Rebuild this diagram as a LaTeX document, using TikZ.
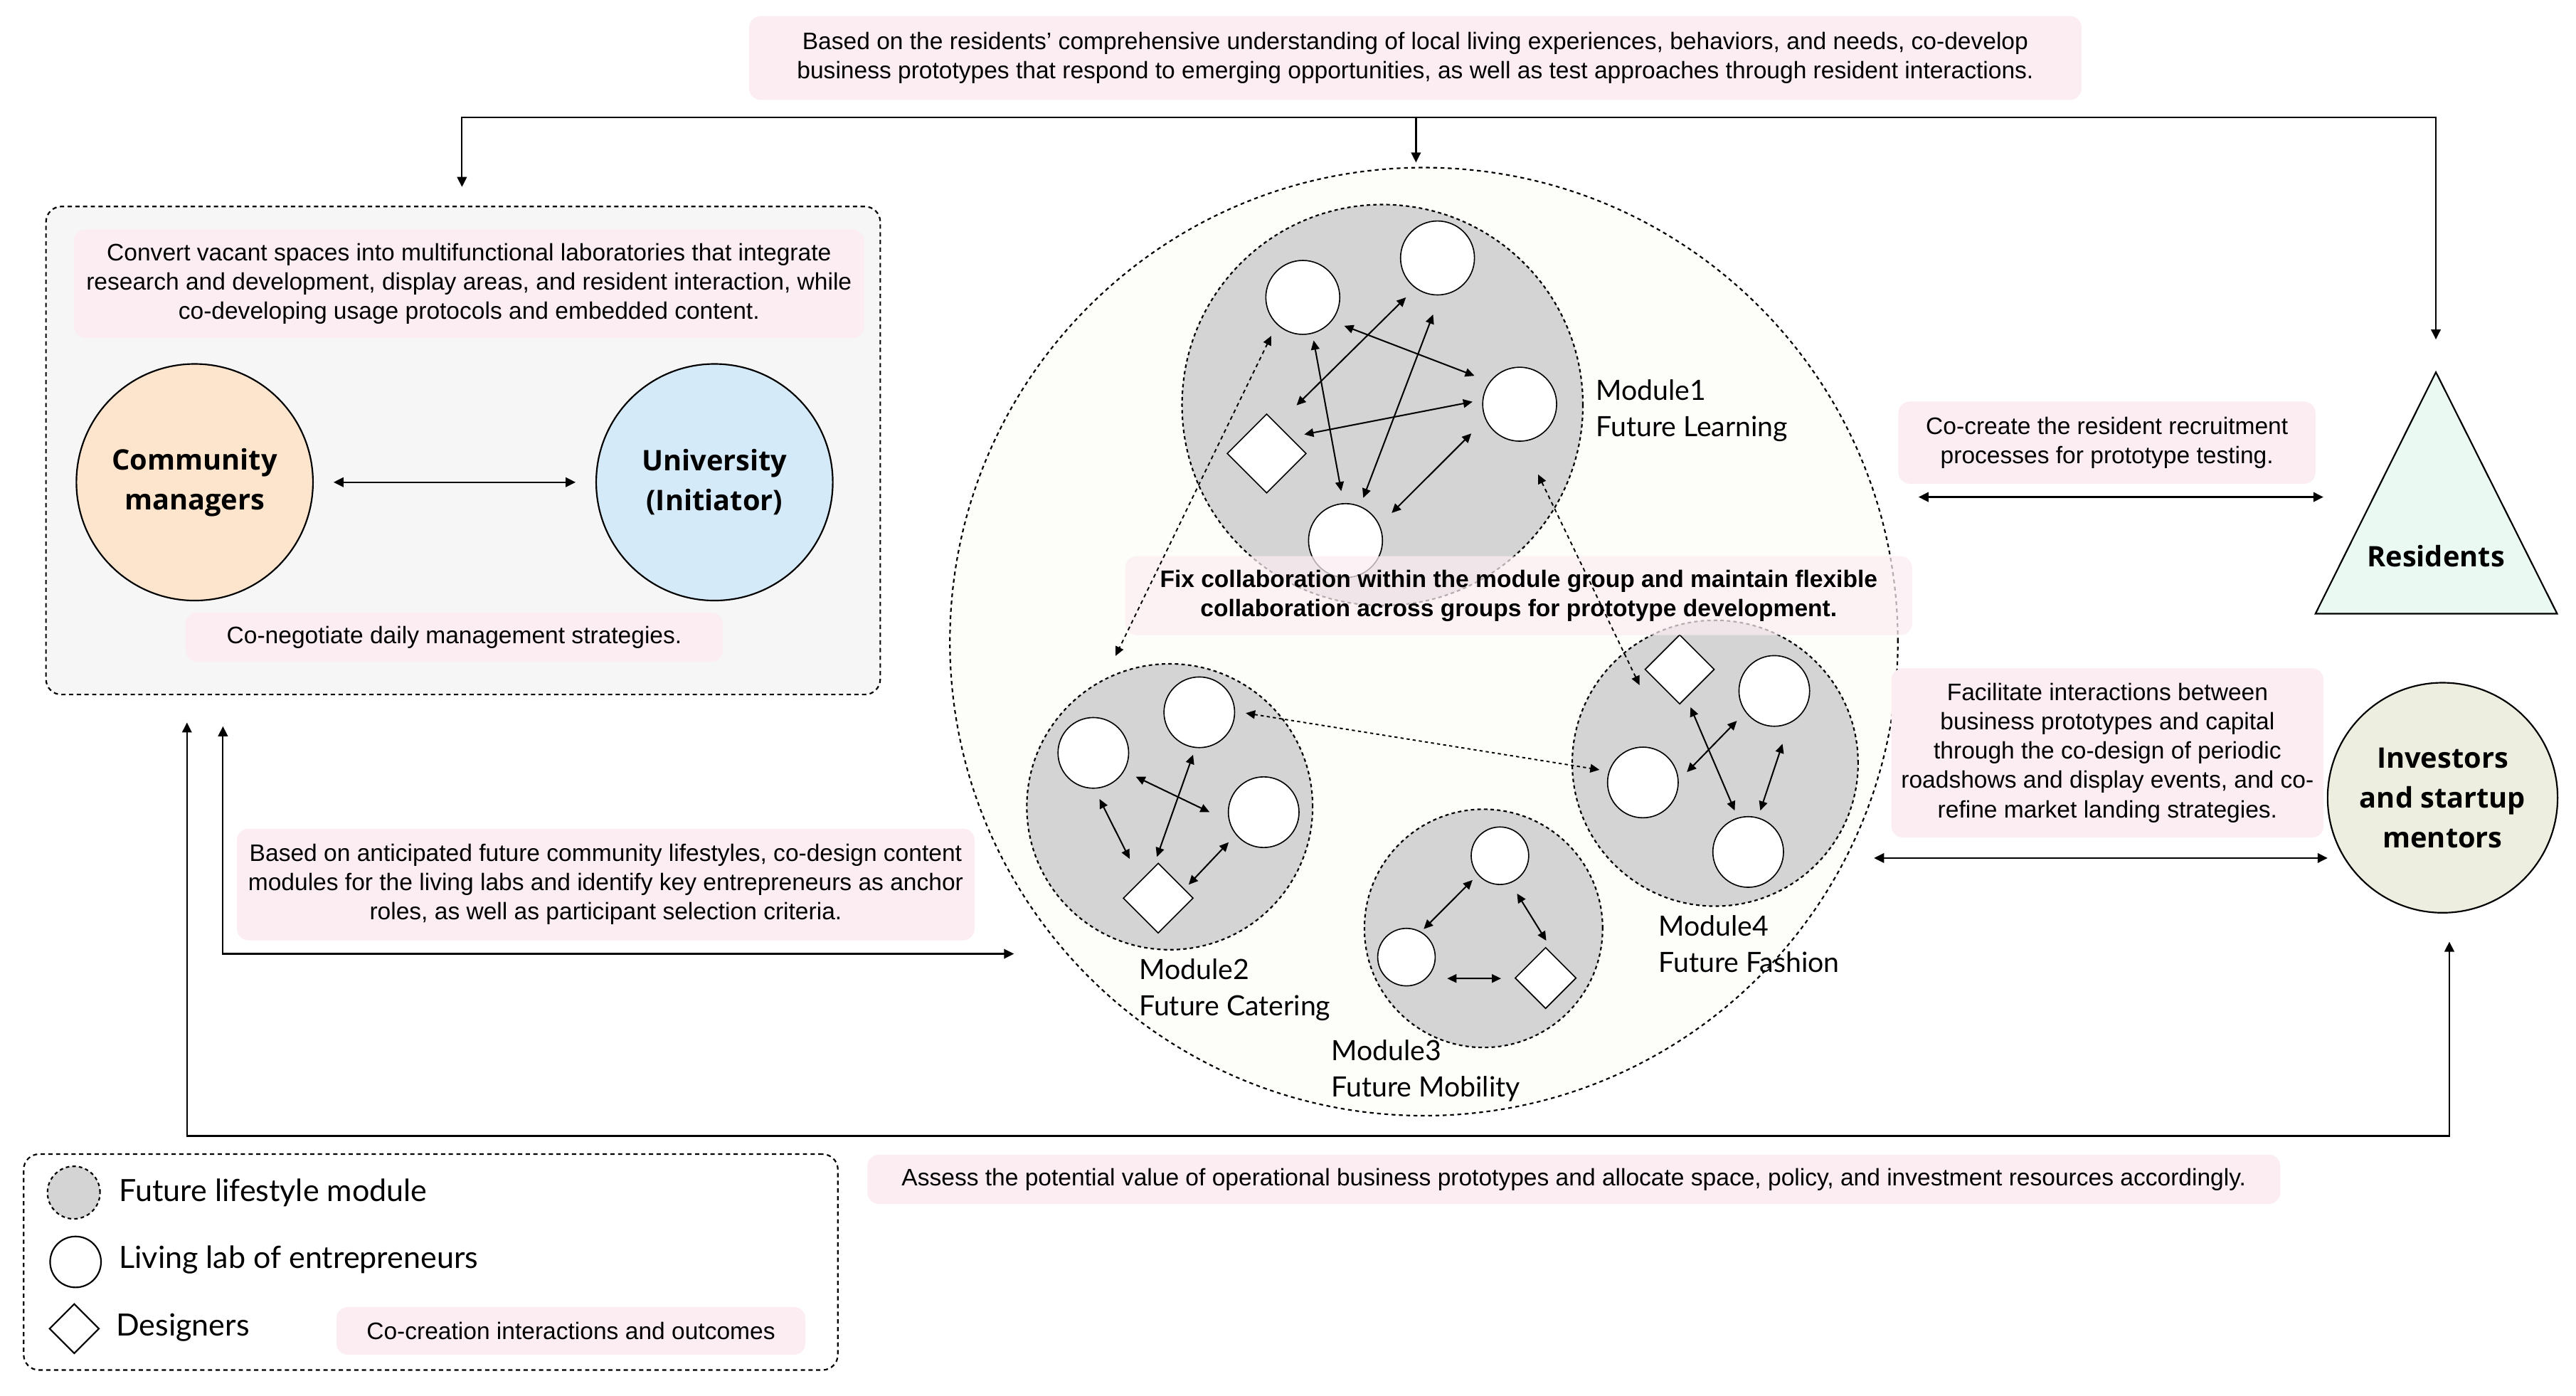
\documentclass[tikz,border=0pt]{standalone}
\usepackage{fontspec}
\setmainfont{Liberation Sans}
\newfontfamily\labfont{Lato}
\newfontfamily\nodefont{Open Sans}
\usetikzlibrary{arrows.meta,shapes.geometric,calc}
\definecolor{pinkbox}{HTML}{FCEDF2}
\definecolor{leftbg}{HTML}{F6F6F6}
\definecolor{peach}{HTML}{FDE5CD}
\definecolor{ublue}{HTML}{D5EAF8}
\definecolor{mint}{HTML}{EAFAF3}
\definecolor{beige}{HTML}{EEEEE0}
\definecolor{modgray}{HTML}{D4D4D4}
\definecolor{cream}{HTML}{FDFDF9}
\newlength\pxu
\setlength\pxu{0.03cm}
\begin{document}
\begin{tikzpicture}[x=0.03cm,y=-0.03cm,
  every node/.style={inner sep=0pt, outer sep=0pt},
  line/.style={line width=0.8pt},
  arr/.style={line width=0.8pt, -{Triangle[length=5.2pt,width=5pt]}},
  darr/.style={line width=0.8pt, {Triangle[length=5.2pt,width=5pt]}-{Triangle[length=5.2pt,width=5pt]}},
  marr/.style={line width=0.75pt, {Triangle[length=4.8pt,width=4.4pt]}-{Triangle[length=4.8pt,width=4.4pt]}},
  xarr/.style={line width=0.7pt, dash pattern=on 2pt off 1.8pt, {Triangle[length=4.8pt,width=4.4pt]}-{Triangle[length=4.8pt,width=4.4pt]}},
  desc/.style={fill=pinkbox, rounded corners=6pt, align=center, font=\fontsize{12.4}{15.2}\selectfont},
  modlabel/.style={align=left, anchor=west, font=\labfont\fontsize{14.5}{18.8}\selectfont},
  legtext/.style={anchor=west, font=\labfont\fontsize{15.9}{18}\selectfont},
  modcirc/.style={circle, draw, fill=modgray, line width=0.8pt, dash pattern=on 1.8pt off 1.6pt},
  ent/.style={circle, draw, fill=white, line width=0.6pt},
  des/.style={diamond, draw, fill=white, line width=0.6pt},
  role/.style={font=\nodefont\bfseries\fontsize{14.7}{20.7}\selectfont, align=center},
  dbox/.style={draw, line width=0.8pt, dash pattern=on 2.2pt off 1.8pt, rounded corners=8pt},
]
\useasboundingbox (0,0) rectangle (1568,849.2);
\fill[white] (0,0) rectangle (1568,849.2);

% ---------- left group box ----------
\node[dbox, fill=leftbg, minimum width=507.8*\pxu, minimum height=297*\pxu] (leftbox) at (281.9,274.2) {};
\node[desc, minimum width=481*\pxu, minimum height=66*\pxu] (cbox) at (285.5,172.7)
 {Convert vacant spaces into multifunctional laboratories that integrate\\research and development, display areas, and resident interaction, while\\co-developing usage protocols and embedded content.};
\node[circle, draw, line width=0.8pt, fill=peach, minimum size=144*\pxu, role] (cm) at (118.5,293.5) {Community\\managers};
\node[circle, draw, line width=0.8pt, fill=ublue, minimum size=144*\pxu, role] (uni) at (434.9,293.5) {University\\(Initiator)};
\draw[darr, shorten <=10.7pt, shorten >=10.7pt] (cm) -- (uni);
\node[desc, minimum width=327*\pxu, minimum height=30*\pxu] (nbox) at (276.5,387.8) {Co-negotiate daily management strategies.};

% ---------- big circle and modules ----------
\node[circle, draw, fill=cream, line width=0.8pt, dash pattern=on 2pt off 1.8pt, minimum size=577*\pxu] (big) at (866.7,390.5) {};
\node[modcirc, minimum size=244*\pxu] (M1) at (841.5,246.5) {};
\node[modcirc, minimum size=174*\pxu] (M2) at (712,491) {};
\node[modcirc, minimum size=145*\pxu] (M3) at (903,565) {};
\node[modcirc, minimum size=174*\pxu] (M4) at (1044,464.5) {};

% module 1
\node[ent, minimum size=45*\pxu] (m1a) at (793,181) {};
\node[ent, minimum size=45*\pxu] (m1b) at (875,157) {};
\node[ent, minimum size=45*\pxu] (m1c) at (925,246) {};
\node[ent, minimum size=45*\pxu] (m1e) at (819,329) {};
\node[des, minimum width=48*\pxu, minimum height=48*\pxu] (m1d) at (771,276) {};
\draw[marr] ($(m1d)+(18.2,-29.3)$) -- ($(m1b)+(-19.2,24)$);
\draw[marr] ($(m1a)+(25.2,17.3)$) -- ($(m1c)+(-27.5,-17.3)$);
\draw[marr] ($(m1a)+(6.6,26.2)$) -- ($(m1e)+(-2.6,-30.1)$);
\draw[marr] ($(m1b)+(-2.7,34.4)$) -- ($(m1e)+(10.8,-26)$);
\draw[marr] ($(m1d)+(22.9,-11.6)$) -- ($(m1c)+(-28.7,-1.5)$);
\draw[marr] ($(m1e)+(28.1,-16.8)$) -- ($(m1c)+(-29.4,17.8)$);

% module 2
\node[ent, minimum size=43*\pxu] (m2a) at (665.5,458.2) {};
\node[ent, minimum size=43*\pxu] (m2b) at (730,433.5) {};
\node[ent, minimum size=43*\pxu] (m2c) at (769.2,494.3) {};
\node[des, minimum width=42.4*\pxu, minimum height=42.4*\pxu] (m2d) at (705,546.6) {};
\draw[marr] ($(m2a)+(3.8,28.1)$) -- ($(m2d)+(-17.4,-23.9)$);
\draw[marr] ($(m2a)+(25.9,14.5)$) -- ($(m2c)+(-32.9,0)$);
\draw[marr] ($(m2b)+(-3.8,25.8)$) -- ($(m2d)+(-0.8,-25.1)$);
\draw[marr] ($(m2c)+(-21.3,18.3)$) -- ($(m2d)+(18.5,-8.2)$);

% module 3
\node[ent, minimum size=35*\pxu] (m3a) at (913,520.8) {};
\node[ent, minimum size=35*\pxu] (m3b) at (856.1,582.5) {};
\node[des, minimum width=37*\pxu, minimum height=37*\pxu] (m3d) at (940.8,595.2) {};
\draw[marr] ($(m3a)+(-16.7,14.8)$) -- ($(m3b)+(10.5,-17.1)$);
\draw[marr] ($(m3a)+(10.4,23)$) -- ($(m3d)+(0.4,-22.7)$);
\draw[marr] ($(m3b)+(24.8,13)$) -- ($(m3d)+(-27.1,0.3)$);

% module 4
\node[des, minimum width=42*\pxu, minimum height=42*\pxu] (m4d) at (1022.4,407.4) {};
\node[ent, minimum size=43*\pxu] (m4a) at (1080,420.5) {};
\node[ent, minimum size=43*\pxu] (m4b) at (1000,476.2) {};
\node[ent, minimum size=43*\pxu] (m4c) at (1064.1,518.5) {};
\draw[marr] ($(m4d)+(6.6,23)$) -- ($(m4c)+(-8.2,-25.2)$);
\draw[marr] ($(m4a)+(-22.8,18.2)$) -- ($(m4b)+(26.8,-6.3)$);
\draw[marr] ($(m4a)+(5,32.2)$) -- ($(m4c)+(7.4,-25.2)$);

% module labels
\node[modlabel] (l1) at (971.5,250) {Module1\\Future Learning};
\node[modlabel] (l2) at (693.4,602.4) {Module2\\Future Catering};
\node[modlabel] (l3) at (810.4,651.7) {Module3\\Future Mobility};
\node[modlabel] (l4) at (1009.6,574.6) {Module4\\Future Fashion};

% fix box (semi-transparent)
\node[desc, fill opacity=0.72, text opacity=1, minimum width=479*\pxu, minimum height=48*\pxu, font=\bfseries\fontsize{12.4}{15.2}\selectfont] (fbox) at (924.4,362.5)
 {Fix collaboration within the module group and maintain flexible\\collaboration across groups for prototype development.};

% cross-module dashed arrows
\draw[xarr] ($(m1a)+(-19.2,23.4)$) -- ($(M2)+(-33,-91.8)$);
\draw[xarr] ($(M1)+(94.7,42.2)$) -- ($(m4d)+(-24.4,9.6)$);
\draw[xarr, dash pattern=on 1.6pt off 1.6pt] ($(m2b)+(28.3,0.5)$) -- ($(m4b)+(-26.4,-7.7)$);

% ---------- top description and bus ----------
\node[desc, minimum width=811*\pxu, minimum height=51*\pxu] (tbox) at (861.5,35.3)
 {Based on the residents' comprehensive understanding of local living experiences, behaviors, and needs, co-develop\\business prototypes that respond to emerging opportunities, as well as test approaches through resident interactions.};
\coordinate (busL) at (281.2,71.3);
\coordinate (busM) at (861.9,71.3);
\coordinate (busR) at (1482.7,71.3);
\coordinate (tipL) at (281.2,113.8);
\coordinate (tipM) at (861.9,98.9);
\coordinate (tipR) at (1482.7,206.6);
\draw[darr] (tipL) -- (busL) -- (busR) -- (tipR);
\draw[arr] (busM) -- (tipM);

% ---------- residents ----------
\coordinate (resTop) at (1482.7,226.5);
\draw[line width=0.8pt, fill=mint] (resTop) -- (1556.5,373.5) -- (1409.4,373.5) -- cycle;
\node[role] (res) at (1482.7,338.4) {Residents};
\node[desc, minimum width=254*\pxu, minimum height=50*\pxu] (ccbox) at (1282.5,269.4)
 {Co-create the resident recruitment\\processes for prototype testing.};
\coordinate (cc1) at (1167.8,302.5);
\coordinate (cc2) at (1414.2,302.5);
\draw[darr] (cc1) -- (cc2);

% ---------- investors ----------
\node[circle, draw, line width=0.8pt, fill=beige, minimum size=140*\pxu, role] (inv) at (1486.8,485.5) {Investors\\and startup\\mentors};
\node[desc, minimum width=263*\pxu, minimum height=103*\pxu] (fabox) at (1282.8,458.2)
 {Facilitate interactions between\\business prototypes and capital\\through the co-design of periodic\\roadshows and display events, and co-\\refine market landing strategies.};
\coordinate (fa1) at (1140.7,522.2);
\draw[darr] (fa1) -- (inv.west |- fa1);

% ---------- lower left connectors ----------
\node[desc, minimum width=449*\pxu, minimum height=68*\pxu] (bbox) at (368.7,538.3)
 {Based on anticipated future community lifestyles, co-design content\\modules for the living labs and identify key entrepreneurs as anchor\\roles, as well as participant selection criteria.};
\coordinate (tip2) at (135.7,442);
\coordinate (cor2) at (135.7,580.5);
\coordinate (tip2b) at (617.2,580.5);
\draw[darr] (tip2) -- (cor2) -- (tip2b);

\coordinate (tipBL) at (113.8,439.7);
\coordinate (botL) at (113.8,691.3);
\coordinate (botR) at (1490.9,691.3);
\coordinate (tipBR) at (1490.9,573.1);
\draw[darr] (tipBL) -- (botL) -- (botR) -- (tipBR);
\node[desc, minimum width=860*\pxu, minimum height=30*\pxu] (abox) at (958,717.7)
 {Assess the potential value of operational business prototypes and allocate space, policy, and investment resources accordingly.};

% ---------- legend ----------
\node[dbox, minimum width=495.6*\pxu, minimum height=131.4*\pxu] (legend) at (262.2,768.1) {};
\node[modcirc, minimum size=32*\pxu] (lg1) at (44.9,725.8) {};
\node[ent, line width=0.8pt, minimum size=31*\pxu] (lg2) at (46,768) {};
\node[des, line width=0.8pt, minimum width=30*\pxu, minimum height=30*\pxu] (lg3) at (45.2,808.6) {};
\node[legtext] (lt1) at (72.5,726) {Future lifestyle module};
\node[legtext] (lt2) at (72.5,766.7) {Living lab of entrepreneurs};
\node[legtext] (lt3) at (70.7,808) {Designers};
\node[desc, minimum width=285.5*\pxu, minimum height=29*\pxu] (lbox) at (347.5,810) {Co-creation interactions and outcomes};
\end{tikzpicture}
\end{document}
